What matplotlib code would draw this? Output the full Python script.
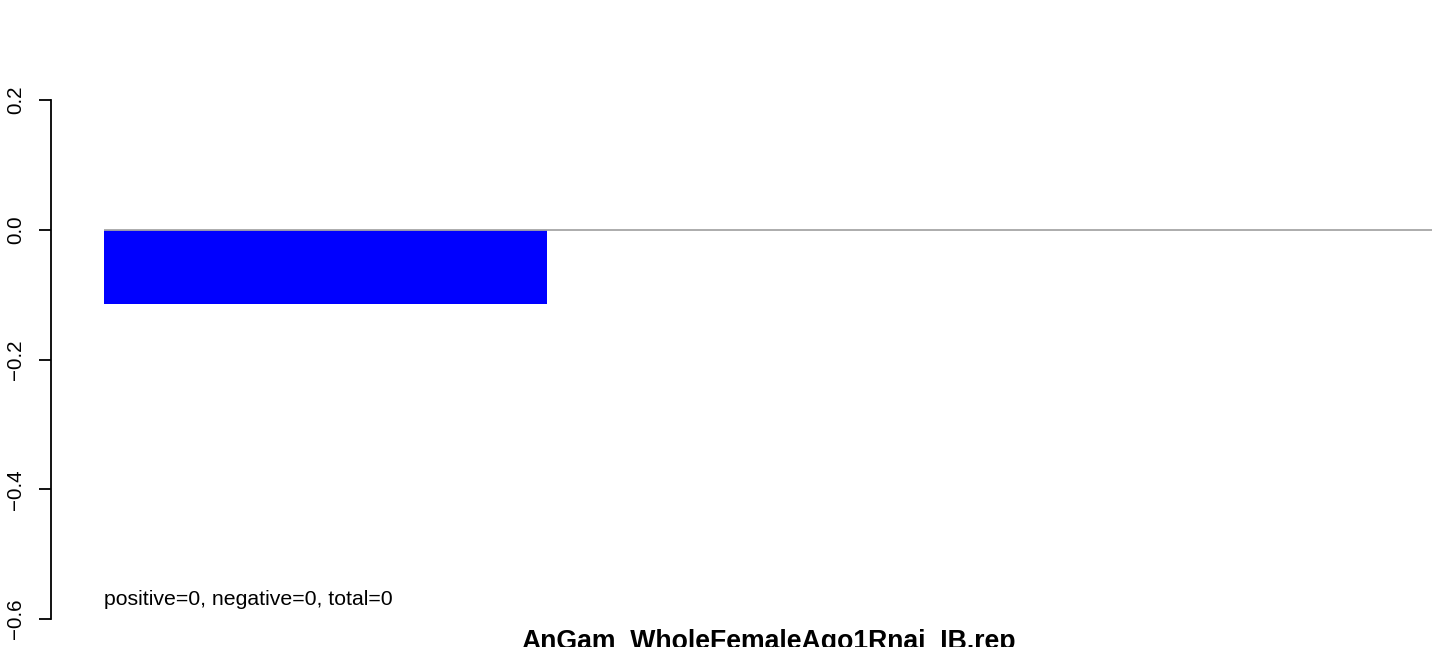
import matplotlib
matplotlib.use("Agg")
import matplotlib.pyplot as plt

# data
categories = ["AnGam_WholeFemaleAgo1Rnai_IB.rep"]
values = [-0.115]
yticks = [-0.6, -0.4, -0.2, 0.0, 0.2]
ytick_labels = ["\u22120.6", "\u22120.4", "\u22120.2", "0.0", "0.2"]
title = "AnGam_WholeFemaleAgo1Rnai_IB.rep"
note = "positive=0, negative=0, total=0"

plt.rcParams['font.family'] = ['Liberation Sans', 'DejaVu Sans']

W, H, DPI = 1444, 647, 100
fig = plt.figure(figsize=(W / DPI, H / DPI), dpi=DPI)

# axes in pixel coords: x 104..1432, y 100..619
x0, x1, ytop, ybot = 104, 1432, 100, 619
ax = fig.add_axes([x0 / W, 1 - ybot / H, (x1 - x0) / W, (ybot - ytop) / H])
ax.set_xlim(0, 3)
ax.set_ylim(-0.6, 0.2)

ax.bar([0], values, width=1.0, align='edge', color='#0000ff', edgecolor='none', zorder=2)
ax.axhline(0, color='#a6a6a6', lw=1.3, zorder=3)

for s in ['top', 'right', 'bottom']:
    ax.spines[s].set_visible(False)
ax.spines['left'].set_position(('outward', 53 * 72 / DPI))
ax.spines['left'].set_linewidth(1.3)
ax.set_xticks([])
ax.set_yticks(yticks)
ax.set_yticklabels(ytick_labels, rotation=90, va='center', fontsize=14.8)
ax.tick_params(axis='y', length=12 * 72 / DPI, width=1.3, pad=10)

ax.text(0, -0.578, note, fontsize=15.3, ha='left', va='baseline')
fig.text(768.5 / W, -2.0 / H, title, fontsize=19.2, fontweight='bold', ha='center', va='baseline')

fig.savefig("out.png", dpi=DPI)
